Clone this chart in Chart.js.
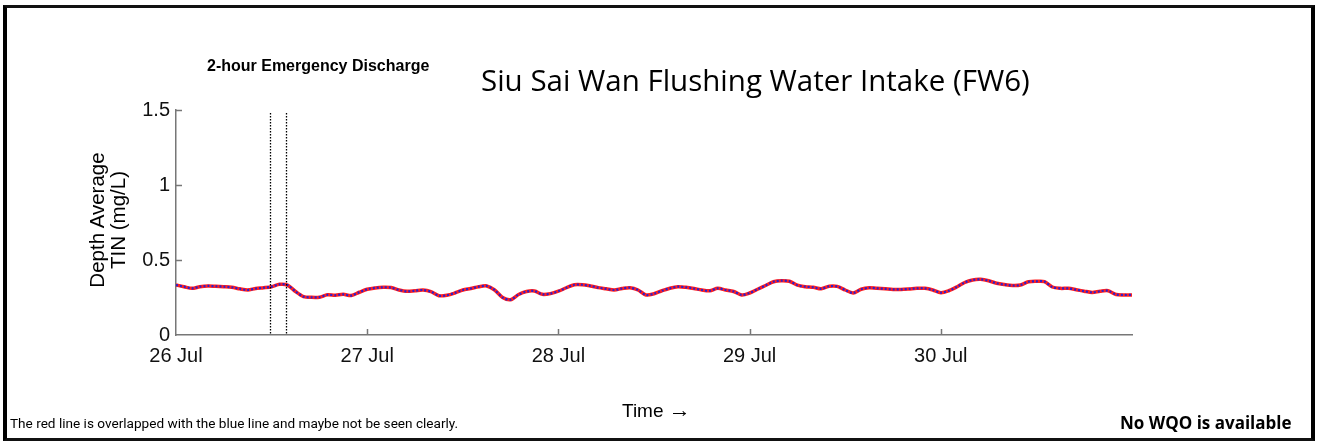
<!DOCTYPE html>
<html><head><meta charset="utf-8">
<script src="https://cdn.jsdelivr.net/npm/chart.js@4"></script>
<style>
html,body{margin:0;padding:0;background:#fff;width:1319px;height:443px;overflow:hidden;}
#wrap{position:absolute;left:0;top:0;width:1319px;height:443px;}
#frame{position:absolute;left:3px;top:5px;width:1304px;height:430px;border-left:4px solid #000;border-right:4px solid #000;border-top:3px solid #111;border-bottom:3px solid #111;pointer-events:none;}
.t{position:absolute;white-space:nowrap;color:#000;}
</style></head>
<body><div id="wrap">
<canvas id="c" width="1319" height="443"></canvas>
<div id="frame"></div>
<div class="t" style="left:207px;top:57px;font:bold 16px 'Liberation Sans',Arial,sans-serif;">2-hour Emergency Discharge</div>
<div class="t" style="left:481px;top:59px;font:29.5px 'Open Sans',sans-serif;">Siu Sai Wan Flushing Water Intake (FW6)</div>
<div class="t" style="left:107px;top:220px;transform:translate(-50%,-50%) rotate(-90deg);font:20.5px 'Liberation Sans',Arial,sans-serif;text-align:center;line-height:21px;">Depth Average<br>TIN (mg/L)</div>
<div class="t" style="left:622px;top:399px;font:19px/22px 'Liberation Sans',Arial,sans-serif;">Time <span style="font-size:22px;line-height:22px;">&rarr;</span></div>
<div class="t" style="left:10px;top:415px;font:13.6px 'Roboto',sans-serif;">The red line is overlapped with the blue line and maybe not be seen clearly.</div>
<div class="t" style="left:1120px;top:411px;font:bold 17px 'Open Sans',sans-serif;">No WQO is available</div>
</div>
<script>
// hours since 26 Jul 00:00
const hours = Array.from({length:121},(_,i)=>i);
const tinValues = [
0.333,0.322,0.311,0.322,0.327,0.325,0.322,0.318,0.308,0.300,
0.310,0.315,0.322,0.338,0.333,0.290,0.256,0.251,0.252,0.268,
0.265,0.271,0.263,0.285,0.305,0.314,0.318,0.316,0.300,0.291,
0.295,0.300,0.289,0.262,0.265,0.280,0.300,0.310,0.322,0.327,
0.300,0.250,0.235,0.270,0.290,0.293,0.271,0.276,0.292,0.315,
0.335,0.335,0.327,0.316,0.308,0.300,0.310,0.315,0.300,0.267,
0.275,0.295,0.312,0.322,0.318,0.310,0.300,0.295,0.311,0.300,
0.290,0.267,0.280,0.305,0.330,0.355,0.362,0.358,0.332,0.322,
0.318,0.308,0.325,0.324,0.300,0.280,0.305,0.315,0.311,0.308,
0.304,0.304,0.307,0.311,0.311,0.300,0.282,0.295,0.320,0.350,
0.367,0.371,0.362,0.345,0.336,0.330,0.333,0.355,0.358,0.356,
0.320,0.311,0.311,0.302,0.292,0.284,0.292,0.295,0.270,0.267,
0.267];
const xTickHours = [0,24,48,72,96];
const xTickLabels = ['26 Jul','27 Jul','28 Jul','29 Jul','30 Jul'];
const yTicks = [0,0.5,1,1.5];
const dischargeWindow = [11.75,13.75];

const pts = hours.map((h,i)=>({x:h,y:tinValues[i]}));

const inwardTicks = {
  id:'inwardTicks',
  afterDraw(chart){
    const {ctx, chartArea:a, scales:{x,y}} = chart;
    ctx.save();
    ctx.strokeStyle='#777'; ctx.lineWidth=1.5;
    ctx.beginPath();
    xTickHours.forEach(h=>{ if(h===0) return; const px=Math.round(x.getPixelForValue(h))+0.5; ctx.moveTo(px,a.bottom); ctx.lineTo(px,a.bottom-6);});
    yTicks.forEach(v=>{ if(v===0) return; const py=Math.round(y.getPixelForValue(v))+0.5; ctx.moveTo(a.left,py); ctx.lineTo(a.left+6,py);});
    ctx.stroke();
    ctx.strokeStyle='#000'; ctx.lineWidth=1.3; ctx.setLineDash([1.5,1.5]);
    ctx.beginPath();
    dischargeWindow.forEach(h=>{ const px=Math.round(x.getPixelForValue(h))+0.5; ctx.moveTo(px,a.top+3); ctx.lineTo(px,a.bottom);});
    ctx.stroke();
    ctx.restore();
  }
};

new Chart(document.getElementById('c'),{
  type:'line',
  data:{datasets:[
    {data:pts,borderColor:'#2a1fd0',borderWidth:2.2,borderDash:[2,2],pointRadius:0,tension:0.3,order:0},
    {data:pts,borderColor:'#ff2020',borderWidth:3.5,pointRadius:0,tension:0.3,order:1}
  ]},
  options:{
    responsive:false,animation:false,
    layout:{padding:{left:0,top:110,right:187,bottom:0}},
    plugins:{legend:{display:false},tooltip:{enabled:false}},
    scales:{
      x:{type:'linear',min:0,max:120,
        afterBuildTicks(s){s.ticks=xTickHours.map(v=>({value:v}));},
        afterFit(s){s.height=108;},
        grid:{display:false,drawTicks:false},
        border:{display:true,color:'#777',width:1.5},
        ticks:{padding:9,color:'#111',font:{family:"'Liberation Sans',Arial,sans-serif",size:20},
          callback:(v)=>{const i=xTickHours.indexOf(v);return i>=0?xTickLabels[i]:'';},maxRotation:0,autoSkip:false}},
      y:{min:0,max:1.5,
        afterBuildTicks(s){s.ticks=yTicks.map(v=>({value:v}));},
        afterFit(s){s.width=176;},
        grid:{display:false,drawTicks:false},
        border:{display:true,color:'#777',width:1.5},
        ticks:{padding:6,color:'#111',font:{family:"'Liberation Sans',Arial,sans-serif",size:20},
          callback:(v)=>String(v)}}
    }
  },
  plugins:[inwardTicks]
});
</script>
</body></html>
